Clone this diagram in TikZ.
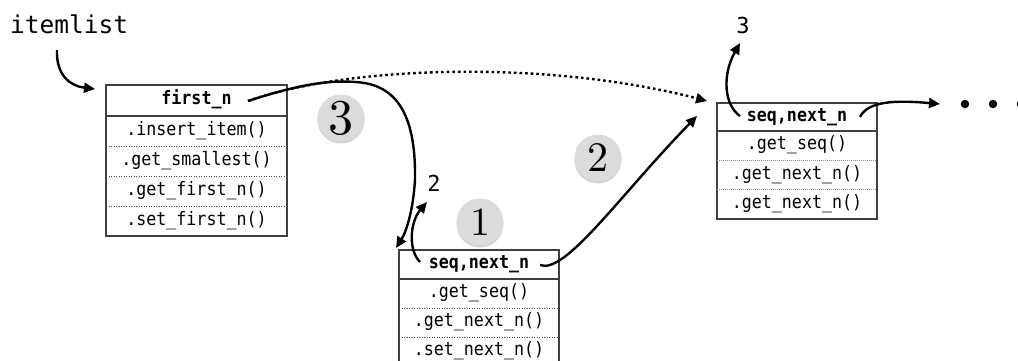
\documentclass[tikz,border=0pt]{standalone}
\usepackage{fontspec}
\setmonofont{DejaVu Sans Mono}
\newfontfamily\cellfont{DejaVu Sans Mono}[FakeStretch=0.9]
\newfontfamily\badgefont{lmroman10-regular.otf}
\usetikzlibrary{arrows.meta,shadows}
\newcommand\myrow{\cellfont\fontsize{18.5}{20}\selectfont}
\newcommand\myrowb{\cellfont\bfseries\fontsize{18.5}{20}\selectfont}
\newcommand\mynum{\ttfamily\fontsize{22}{22}\selectfont}
\newcommand\mytitle{\ttfamily\fontsize{24.5}{25}\selectfont}
\begin{document}
\begin{tikzpicture}[x=1pt,y=-1pt,
  frame/.style={draw=black!75,line width=1.3pt},
  sepline/.style={draw=black!70,line width=0.8pt,dash pattern=on 1.2pt off 1.3pt},
  lightsep/.style={draw=black!45,line width=0.7pt,dash pattern=on 1pt off 1pt},
  cell/.style={inner sep=0pt,outer sep=0pt,font=\myrow,text height=12pt,text depth=3.5pt},
  hcell/.style={cell,font=\myrowb},
  arr/.style={line width=2.4pt,-{Triangle[length=11pt,width=10pt]}},
  darr/.style={arr,dash pattern=on 2.6pt off 3pt},
  badge/.style={circle,fill=black!14,minimum size=47pt,inner sep=0pt,
    drop shadow={shadow xshift=0pt,shadow yshift=-2pt,opacity=0.35}},
  num/.style={font=\mynum,inner sep=0pt},
  bigdot/.style={circle,fill=black,minimum size=8.5pt,inner sep=0pt}]
\clip (0,0) rectangle (1018,360);

% title
\node[font=\mytitle,anchor=base west,inner sep=0pt] (itemlist) at (10,33) {itemlist};

% box 1
\node[hcell,minimum width=181pt,minimum height=31pt] (b1h) at (196.5,100.5) {first\_n};
\node[cell,minimum width=181pt,minimum height=30pt,anchor=north] (b1a) at (b1h.south) {.insert\_item()};
\node[cell,minimum width=181pt,minimum height=30pt,anchor=north] (b1b) at (b1a.south) {.get\_smallest()};
\node[cell,minimum width=181pt,minimum height=30pt,anchor=north] (b1c) at (b1b.south) {.get\_first\_n()};
\node[cell,minimum width=181pt,minimum height=30pt,anchor=north] (b1d) at (b1c.south) {.set\_first\_n()};
\draw[frame] (b1h.north west) rectangle (b1d.south east);
\draw[frame] (b1h.south west) -- (b1h.south east);
\draw[sepline] (b1a.south west) -- (b1a.south east);
\draw[sepline] (b1b.south west) -- (b1b.south east);
\draw[sepline] (b1c.south west) -- (b1c.south east);

% box 2
\node[hcell,minimum width=160pt,minimum height=29pt] (b2h) at (479,264.5) {seq,next\_n};
\node[cell,minimum width=160pt,minimum height=29pt,anchor=north] (b2a) at (b2h.south) {.get\_seq()};
\node[cell,minimum width=160pt,minimum height=29pt,anchor=north] (b2b) at (b2a.south) {.get\_next\_n()};
\node[cell,minimum width=160pt,minimum height=29pt,anchor=north] (b2c) at (b2b.south) {.set\_next\_n()};
\draw[frame] (b2h.north west) rectangle (b2c.south east);
\draw[frame] (b2h.south west) -- (b2h.south east);
\draw[sepline] (b2a.south west) -- (b2a.south east);
\draw[sepline] (b2b.south west) -- (b2b.south east);

% box 3
\node[hcell,minimum width=160pt,minimum height=28pt] (b3h) at (797,117) {seq,next\_n};
\node[cell,minimum width=160pt,minimum height=29.3pt,anchor=north] (b3a) at (b3h.south) {.get\_seq()};
\node[cell,minimum width=160pt,minimum height=29.3pt,anchor=north] (b3b) at (b3a.south) {.get\_next\_n()};
\node[cell,minimum width=160pt,minimum height=29.3pt,anchor=north] (b3c) at (b3b.south) {.get\_next\_n()};
\draw[frame] (b3h.north west) rectangle (b3c.south east);
\draw[frame] (b3h.south west) -- (b3h.south east);
\draw[lightsep] (b3a.south west) -- (b3a.south east);
\draw[lightsep] (b3b.south west) -- (b3b.south east);

% badges
\node[badge,font=\badgefont\fontsize{50}{50}\selectfont] (c3) at (341,118) {3};
\node[badge,font=\badgefont\fontsize{40}{40}\selectfont] (c1) at (480,222) {1};
\node[badge,font=\badgefont\fontsize{42}{42}\selectfont] (c2) at (598,158) {2};

% labels
\node[num] (n2) at (434,183) {2};
\node[num] (n3) at (743,25) {3};

% dots
\node[bigdot] (d1) at (965,104) {};
\node[bigdot] (d2) at (993,104) {};
\node[bigdot] (d3) at (1021,104) {};

% connector end points
\coordinate (p0) at (57,50);
\coordinate (t0) at (95,89);
\coordinate (p3) at (248,101);
\coordinate (t3) at (396,248);
\coordinate (td) at (707,101);
\coordinate (p2a) at (420,262);
\coordinate (t2a) at (427,202);
\coordinate (p2) at (540,265);
\coordinate (t2) at (697,116);
\coordinate (p3a) at (740,116);
\coordinate (t3a) at (740,43);
\coordinate (p4) at (860,117);
\coordinate (t4) at (940,104);

% connectors
\draw[arr] (p0) .. controls (56,75) and (70,86) .. (t0);
\draw[darr] (p3) .. controls (350,65) and (550,60) .. (td);
\draw[arr] (p3) .. controls (300,84) and (330,80) .. (355,82)
  .. controls (400,84) and (416,120) .. (415,180)
  .. controls (413,212) and (406,232) .. (t3);
\draw[arr] (p2a) .. controls (408,250) and (410,222) .. (t2a);
\draw[arr] (p2) .. controls (565,275) and (620,195) .. (t2);
\draw[arr] (p3a) .. controls (724,105) and (722,75) .. (t3a);
\draw[arr] (p4) .. controls (868,101) and (895,100) .. (t4);
\end{tikzpicture}
\end{document}
